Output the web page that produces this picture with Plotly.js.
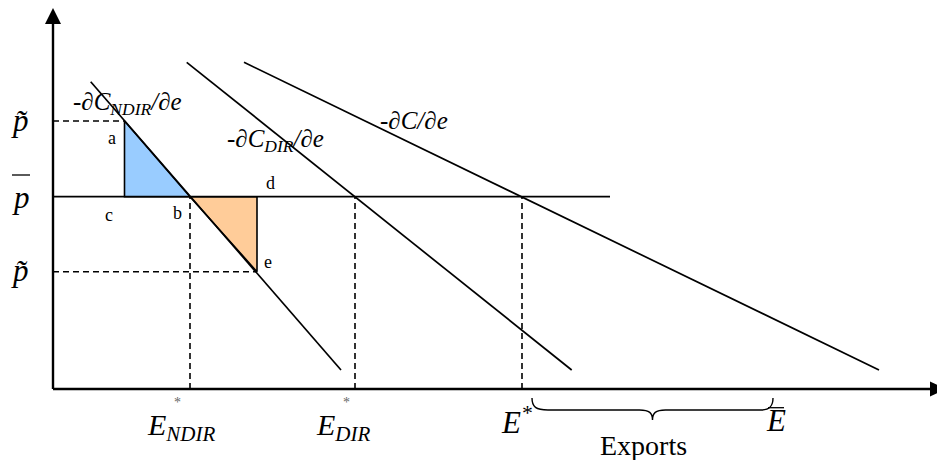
<!DOCTYPE html>
<html>
<head>
<meta charset="utf-8">
<script src="https://cdn.plot.ly/plotly-3.0.1.min.js"></script>
<style>html,body{margin:0;padding:0;background:#fff;}#chart{width:937px;height:460px;}</style>
</head>
<body>
<div id="chart"></div>
<script>
// ---- data (quantity on x, price on y, arbitrary units) ----
const curveNames  = ['NDIR', 'DIR', 'TOTAL'];
const curveStartX = [37.7, 133.7, 191];
const curveStartY = [307.3, 326.7, 326.7];
const curveEndX   = [288, 518.7, 826];
const curveEndY   = [19, 19, 19];

const priceLevels   = [268, 192.3, 117.3];      // p~ (high), p-bar, p~ (low)
const pBarLineEnd   = 557;
const eqQuantities  = [137, 302, 469];          // E*_NDIR, E*_DIR, E*
const eBar          = 720;                      // E-bar
const pointA        = [71.5, 268];
const pointE        = [204, 117.3];
const axisEnd       = [877, 365];               // x axis end, y axis end

const FONT = 'Liberation Serif, serif';

const traces = [];
// triangles
traces.push({x:[pointA[0], pointA[0], eqQuantities[0], pointA[0]],
             y:[pointA[1], priceLevels[1], priceLevels[1], pointA[1]],
             mode:'lines', fill:'toself', fillcolor:'#99CCFF',
             line:{color:'#000', width:1.6}, hoverinfo:'skip'});
traces.push({x:[eqQuantities[0], pointE[0], pointE[0], eqQuantities[0]],
             y:[priceLevels[1], priceLevels[1], pointE[1], priceLevels[1]],
             mode:'lines', fill:'toself', fillcolor:'#FFCC99',
             line:{color:'#000', width:1.6}, hoverinfo:'skip'});
// dashed guides
const dash = {color:'#000', width:1.6, dash:'6px,4px'};
traces.push({x:[0, pointA[0]], y:[priceLevels[0], priceLevels[0]], mode:'lines', line:dash});
traces.push({x:[0, pointE[0]], y:[priceLevels[2], priceLevels[2]], mode:'lines', line:dash});
eqQuantities.forEach(q => traces.push({x:[q, q], y:[0, priceLevels[1]], mode:'lines', line:dash}));
// p-bar line
traces.push({x:[0, pBarLineEnd], y:[priceLevels[1], priceLevels[1]], mode:'lines', line:{color:'#000', width:1.8}});
// marginal cost curves
curveNames.forEach((n, i) => traces.push({
  x:[curveStartX[i], curveEndX[i]], y:[curveStartY[i], curveEndY[i]],
  mode:'lines', name:n, line:{color:'#000', width:1.7}}));
// axes
traces.push({x:[0, 0], y:[0, axisEnd[1]], mode:'lines', line:{color:'#000', width:2.4}});
traces.push({x:[0, axisEnd[0]], y:[0, 0], mode:'lines', line:{color:'#000', width:2.4}});

const mid = (eqQuantities[2] + eBar) / 2;
const shapes = [
  // arrow heads
  {type:'path', xref:'x', yref:'y', path:`M -8,${axisEnd[1]} L 8,${axisEnd[1]} L 0,${axisEnd[1]+16} Z`,
   fillcolor:'#000', line:{width:0}},
  {type:'path', xref:'x', yref:'y', path:`M ${axisEnd[0]},-7.5 L ${axisEnd[0]},7.5 L ${axisEnd[0]+16},0 Z`,
   fillcolor:'#000', line:{width:0}},
  // bar over p
  {type:'line', xref:'x', yref:'y', x0:-41, x1:-23, y0:214, y1:214, line:{color:'#000', width:1.3}},
  // bar over E
  {type:'line', xref:'x', yref:'y', x0:eBar-5, x1:eBar+11, y0:-18.7, y1:-18.7, line:{color:'#000', width:1.3}},
  // brace under exports
  {type:'path', xref:'x', yref:'y',
   path:`M ${eqQuantities[2]+10},-9 C ${eqQuantities[2]+10},-18 ${eqQuantities[2]+14},-21 ${eqQuantities[2]+26},-21 L ${mid-8},-21 C ${mid+2},-21 ${mid+5},-24 ${mid+5},-31 C ${mid+5},-24 ${mid+8},-21 ${mid+18},-21 L ${eBar-12},-21 C ${eBar-4},-21 ${eBar},-18 ${eBar},-9`,
   line:{color:'#000', width:1.4}}
];

function ann(x, y, text, size, italic, color) {
  return {x:x, y:y, xref:'x', yref:'y', text:text, showarrow:false,
    font:{family:FONT, size:size, color:color || '#000', style: italic ? 'italic' : 'normal'},
    xanchor:'center', yanchor:'middle'};
}
const annotations = [
  ann(-33, priceLevels[0]+1, 'p\u0303', 31, true),
  ann(-32, priceLevels[1]-1, 'p', 31, true),
  ann(-33, priceLevels[2]+1, 'p\u0303', 31, true),
  ann(59, 251, 'a', 18), ann(56, 174, 'c', 18), ann(124, 176, 'b', 18),
  ann(217, 206, 'd', 18), ann(215, 127, 'e', 18),
  ann(74, 286, '-\u2202C<sub>NDIR</sub>/\u2202e', 25, true),
  ann(222, 249, '-\u2202C<sub>DIR</sub>/\u2202e', 25, true),
  ann(361, 269, '-\u2202C/\u2202e', 25, true),
  ann(eqQuantities[0]-9, -38, 'E<sub>NDIR</sub>', 30, true),
  ann(eqQuantities[0]-13, -13, '*', 14, false, '#666'),
  ann(eqQuantities[1]-12, -38, 'E<sub>DIR</sub>', 30, true),
  ann(eqQuantities[1]-9, -13, '*', 14, false, '#666'),
  ann(eqQuantities[2]-6, -31, 'E<sup>*</sup>', 31, true),
  ann(eBar+3, -31, 'E', 31, true),
  ann(590, -56, 'Exports', 28)
];

const layout = {
  width:937, height:460, margin:{l:0, r:0, t:0, b:0},
  paper_bgcolor:'#fff', plot_bgcolor:'#fff', showlegend:false,
  font:{family:FONT},
  xaxis:{range:[-53, 884], visible:false, fixedrange:true},
  yaxis:{range:[-71, 389], visible:false, fixedrange:true},
  shapes:shapes, annotations:annotations
};
Plotly.newPlot('chart', traces, layout, {staticPlot:true, displayModeBar:false});
</script>
</body>
</html>
